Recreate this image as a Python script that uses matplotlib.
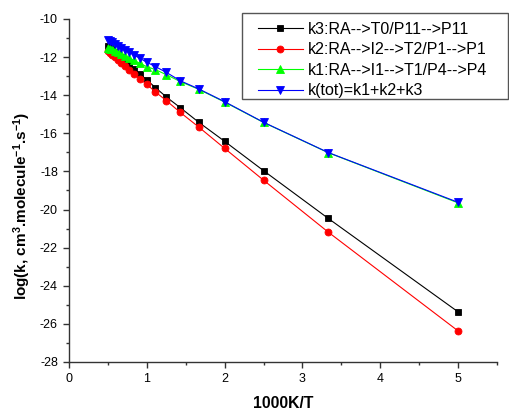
import matplotlib
matplotlib.use('Agg')
import matplotlib.pyplot as plt
from matplotlib.patches import Rectangle
from matplotlib.ticker import MultipleLocator

plt.rcParams['font.family'] = ['Liberation Sans', 'DejaVu Sans']
plt.rcParams['mathtext.fontset'] = 'custom'
plt.rcParams['mathtext.rm'] = 'Liberation Sans'
plt.rcParams['mathtext.bf'] = 'Liberation Sans:bold'
plt.rcParams['mathtext.default'] = 'bf'
plt.rcParams['axes.unicode_minus'] = False

# 1000/T for T = 2000 ... 200 K
inv_t = [0.5, 0.526, 0.556, 0.588, 0.625, 0.667, 0.714, 0.769, 0.833, 0.909,
         1.0, 1.111, 1.25, 1.429, 1.667, 2.0, 2.5, 3.333, 5.0]

k3 = [-11.40, -11.50, -11.60, -11.72, -11.86, -12.01, -12.18, -12.38, -12.61, -12.88,
      -13.20, -13.60, -14.09, -14.65, -15.42, -16.42, -17.96, -20.47, -25.37]
k2 = [-11.70, -11.80, -11.90, -12.02, -12.15, -12.30, -12.47, -12.67, -12.90, -13.15,
      -13.43, -13.83, -14.28, -14.90, -15.67, -16.79, -18.46, -21.19, -26.37]
k1 = [-11.50, -11.55, -11.60, -11.67, -11.75, -11.83, -11.93, -12.04, -12.17, -12.33,
      -12.50, -12.66, -12.92, -13.28, -13.69, -14.36, -15.43, -17.02, -19.65]
ktot = [-11.10, -11.16, -11.23, -11.31, -11.40, -11.50, -11.61, -11.74, -11.89, -12.06,
        -12.27, -12.50, -12.80, -13.24, -13.67, -14.34, -15.42, -17.01, -19.62]

labels = ['k3:RA-->T0/P11-->P11', 'k2:RA-->I2-->T2/P1-->P1',
          'k1:RA-->I1-->T1/P4-->P4', 'k(tot)=k1+k2+k3']

W, H = 510, 412
fig = plt.figure(figsize=(W / 100, H / 100), dpi=100)
ax = fig.add_axes([0.1353, 0.1214, 0.8392, 0.8325])

ax.plot(inv_t, k3, '-s', color='black', lw=0.8, ms=4.2, mew=0.6, label=labels[0])
ax.plot(inv_t, k2, '-o', color='red', lw=0.8, ms=5, mew=0.6, label=labels[1])
ax.plot(inv_t, k1, '-^', color='#00ff00', lw=0.8, ms=6, mew=0.6, label=labels[2])
ax.plot(inv_t, ktot, '-v', color='blue', lw=0.8, ms=6, mew=0.6, label=labels[3])

ax.set_xlim(0, 5.5)
ax.set_ylim(-28, -10)
ax.xaxis.set_major_locator(MultipleLocator(1))
ax.xaxis.set_minor_locator(MultipleLocator(0.5))
ax.yaxis.set_major_locator(MultipleLocator(2))
ax.yaxis.set_minor_locator(MultipleLocator(1))
ax.tick_params(which='both', direction='out', labelsize=9, color='#333333',
               width=1)
ax.tick_params(which='major', length=4, pad=4)
ax.tick_params(which='minor', length=2.5)
for side in ['top', 'right']:
    ax.spines[side].set_visible(False)
for side in ['left', 'bottom']:
    ax.spines[side].set_color('#333333')
    ax.spines[side].set_linewidth(1)

ax.set_xlabel('1000K/T', fontsize=11.3, fontweight='bold', labelpad=8)
ax.set_ylabel(r'log(k, cm$^{3}$.molecule$^{-1}$.s$^{-1}$)', fontsize=11,
              fontweight='bold')
ax.yaxis.set_label_coords(-0.084, 0.455)

# legend frame drawn separately, wider on the left than the legend's own pad
fig.patches.append(Rectangle((242 / W, 1 - 99 / H), 266 / W, 86 / H,
                             transform=fig.transFigure, fill=False,
                             edgecolor='#555555', linewidth=1))
fig.legend(loc='upper left', bbox_to_anchor=(258 / W, 1 - 22 / H),
           fontsize=11.5, frameon=False, handlelength=2.8,
           labelspacing=0.34, borderpad=0, handletextpad=0.35,
           borderaxespad=0)

fig.savefig('out.png', dpi=100)
